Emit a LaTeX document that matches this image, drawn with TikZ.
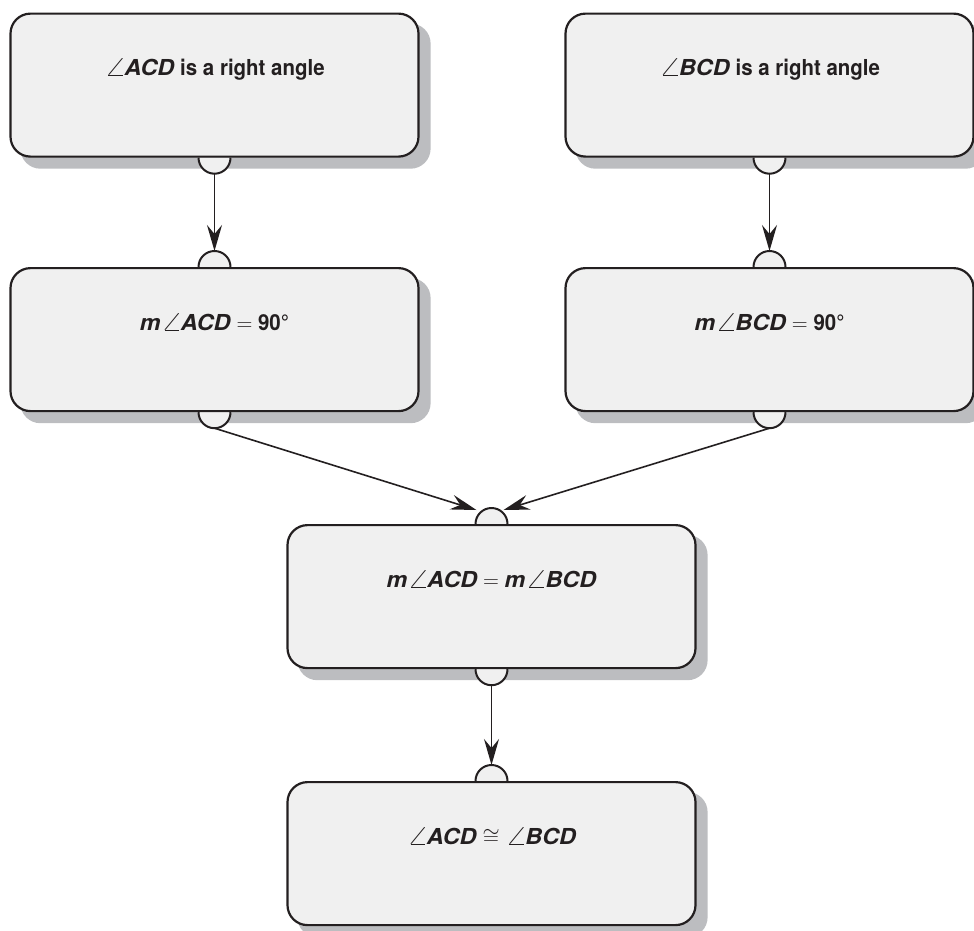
\RequirePackage{fix-cm}
\documentclass[tikz,border=0pt]{standalone}
\usepackage{graphicx}
\usepackage{fontspec}
\setmainfont{TeX Gyre Heros}[BoldFeatures={FakeStretch=0.93},BoldItalicFeatures={FakeStretch=1.06}]
\usetikzlibrary{arrows.meta,calc}
\definecolor{boxfill}{HTML}{F0F0F0}
\definecolor{shadowgray}{HTML}{BCBDC0}
\definecolor{ink}{HTML}{231F20}
\pgfdeclarelayer{shadowlayer}
\pgfdeclarelayer{tablayer}
\pgfsetlayers{shadowlayer,tablayer,main}
\newcommand{\ang}{\scalebox{1.6}[1]{\fontsize{26}{26}\selectfont$\angle$}\kern-2.5pt}
\tikzset{
  stepbox/.style={draw=ink, fill=boxfill, line width=2.2pt, rounded corners=20pt,
    minimum width=408pt, inner sep=0pt, text height=62pt, text depth=81pt,
    anchor=north, text=ink, font=\fontsize{22}{26}\selectfont\bfseries},
  tabstyle/.style={draw=ink, fill=boxfill, line width=2pt},
  conn/.style={draw=ink, line width=1.6pt, -{Stealth[length=26pt,width=15pt,inset=9pt]}},
}
\newcommand{\boxshadow}[1]{\fill[shadowgray, rounded corners=20pt]
  ([shift={(11,11)}]#1.north west) rectangle ([shift={(11,11)}]#1.south east);}
\newcommand{\tabdown}[1]{\filldraw[tabstyle] ([xshift=-16pt]#1.south) arc (180:360:16pt);}
\newcommand{\tabup}[1]{\filldraw[tabstyle] ([xshift=-16pt]#1.north) arc (180:0:16pt);}
\begin{document}
\begin{tikzpicture}[x=1pt,y=-1pt]
\useasboundingbox (0,0) rectangle (974,930);
\node[stepbox] (a1) at (214.5,12.5) {\ang\textit{ACD} is a right angle};
\node[stepbox] (b1) at (769.5,12.5) {\ang\textit{BCD} is a right angle};
\node[stepbox] (a2) at (214.5,267) {\textit{m}\ang\textit{ACD} $=$ 90°};
\node[stepbox] (b2) at (769.5,267) {\textit{m}\ang\textit{BCD} $=$ 90°};
\node[stepbox] (c) at (491.5,524) {\textit{m}\ang\textit{ACD} $=$ \textit{m}\ang\textit{BCD}};
\node[stepbox] (d) at (491.5,781) {\ang\textit{ACD} $\cong$ \ang\textit{BCD}};
\begin{pgfonlayer}{shadowlayer}
\boxshadow{a1}\boxshadow{b1}\boxshadow{a2}\boxshadow{b2}\boxshadow{c}\boxshadow{d}
\end{pgfonlayer}
\begin{pgfonlayer}{tablayer}
\tabdown{a1}\tabdown{b1}\tabdown{a2}\tabdown{b2}\tabdown{c}
\tabup{a2}\tabup{b2}\tabup{c}\tabup{d}
\end{pgfonlayer}
\coordinate (a1o) at ([shift={(0,16)}]a1.south);
\coordinate (b1o) at ([shift={(0,16)}]b1.south);
\coordinate (a2o) at ([shift={(0,16)}]a2.south);
\coordinate (b2o) at ([shift={(0,16)}]b2.south);
\coordinate (co) at ([shift={(0,16)}]c.south);
\coordinate (a2i) at ([shift={(0,-16)}]a2.north);
\coordinate (b2i) at ([shift={(0,-16)}]b2.north);
\coordinate (cl) at ([shift={(-15,-14)}]c.north);
\coordinate (cr) at ([shift={(12,-14)}]c.north);
\coordinate (di) at ([shift={(0,-16)}]d.north);
\draw[conn] (a1o) -- (a2i);
\draw[conn] (b1o) -- (b2i);
\draw[conn] (a2o) -- (cl);
\draw[conn] (b2o) -- (cr);
\draw[conn] (co) -- (di);
\end{tikzpicture}
\end{document}
